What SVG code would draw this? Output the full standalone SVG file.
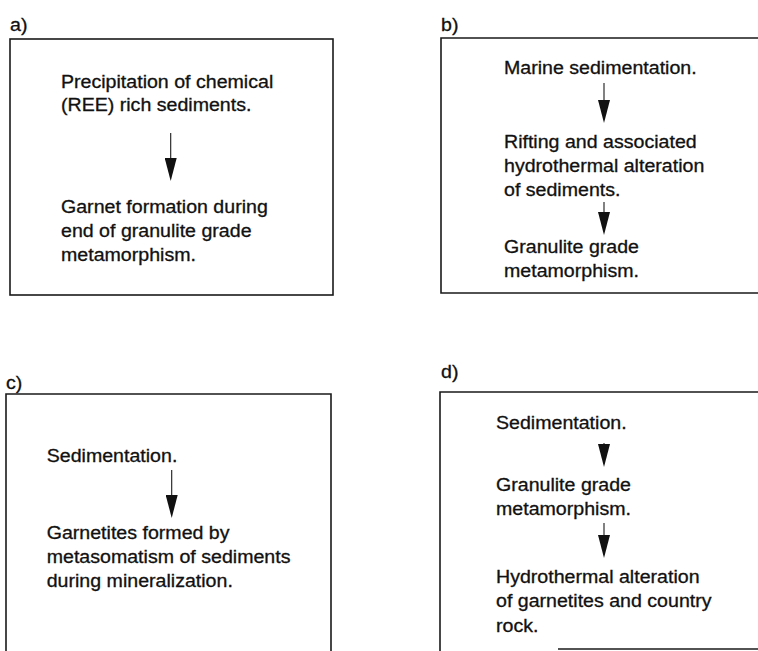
<svg xmlns="http://www.w3.org/2000/svg" width="758" height="651" viewBox="0 0 758 651">
<defs>
<style>
text{font-family:"Liberation Sans",Arial,sans-serif;font-size:17.5px;fill:#111;stroke:#111;stroke-width:0.3}
.box{fill:none;stroke:#1a1a1a;stroke-width:1.6}
.conn{stroke:#1a1a1a;stroke-width:1.1;fill:none}
</style>
<marker id="ah" markerUnits="userSpaceOnUse" markerWidth="23" markerHeight="12" refX="0" refY="6" orient="auto">
<path d="M0,0 L23,6 L0,12 z" fill="#111"/>
</marker>
</defs>
<rect width="758" height="651" fill="#fff"/>

<g id="panel-a">
<g transform="translate(10,0) scale(1.12,1)"><text x="0" y="31">a)</text></g>
<rect class="box" x="10" y="39" width="323" height="256"/>
<g transform="translate(61,0) scale(1.12,1)">
<text x="0" y="88">Precipitation of chemical</text>
<text x="0" y="111.5">(REE) rich sediments.</text>
<text x="0" y="213">Garnet formation during</text>
<text x="0" y="237">end of granulite grade</text>
<text x="0" y="261">metamorphism.</text>
</g>
</g>

<g id="panel-b">
<g transform="translate(441,0) scale(1.12,1)"><text x="0" y="31">b)</text></g>
<path class="box" d="M760,38 H441 V293 H760"/>
<g transform="translate(504,0) scale(1.12,1)">
<text x="0" y="74.5">Marine sedimentation.</text>
<text x="0" y="148">Rifting and associated</text>
<text x="0" y="172">hydrothermal alteration</text>
<text x="0" y="196">of sediments.</text>
<text x="0" y="253">Granulite grade</text>
<text x="0" y="277">metamorphism.</text>
</g>
</g>

<g id="panel-c">
<g transform="translate(6,0) scale(1.12,1)"><text x="0" y="389">c)</text></g>
<path class="box" d="M6,653 V394 H331 V653"/>
<g transform="translate(46.7,0) scale(1.12,1)">
<text x="0" y="462">Sedimentation.</text>
<text x="0" y="539">Garnetites formed by</text>
<text x="0" y="563">metasomatism of sediments</text>
<text x="0" y="587">during mineralization.</text>
</g>
</g>

<g id="panel-d">
<g transform="translate(441,0) scale(1.12,1)"><text x="0" y="378">d)</text></g>
<path class="box" d="M440,653 V392 H760"/>
<path class="box" d="M558,649 H760"/>
<g transform="translate(496,0) scale(1.12,1)">
<text x="0" y="429">Sedimentation.</text>
<text x="0" y="491">Granulite grade</text>
<text x="0" y="515">metamorphism.</text>
<text x="0" y="583">Hydrothermal alteration</text>
<text x="0" y="607.5">of garnetites and country</text>
<text x="0" y="632">rock.</text>
</g>
</g>

<g id="connectors">
<line class="conn" x1="170.7" y1="133" x2="170.7" y2="158" marker-end="url(#ah)"/>
<line class="conn" x1="604" y1="83" x2="604" y2="100" marker-end="url(#ah)"/>
<line class="conn" x1="604" y1="202" x2="604" y2="212" marker-end="url(#ah)"/>
<line class="conn" x1="171.7" y1="470" x2="171.7" y2="495" marker-end="url(#ah)"/>
<line class="conn" x1="604" y1="443" x2="604" y2="444" marker-end="url(#ah)"/>
<line class="conn" x1="604" y1="523" x2="604" y2="535" marker-end="url(#ah)"/>
</g>
</svg>
